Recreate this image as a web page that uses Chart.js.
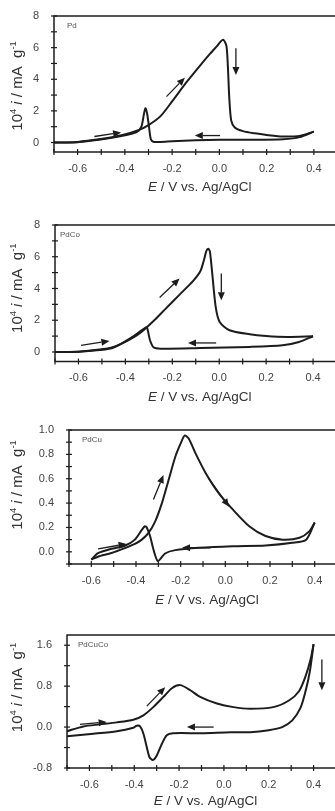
<!DOCTYPE html>
<html>
<head>
<meta charset="utf-8">
<script src="https://cdn.jsdelivr.net/npm/chart.js@4.4.1/dist/chart.umd.min.js"></script>
<style>
    html, body { margin: 0; padding: 0; background: #fff; width: 335px; height: 811px; overflow: hidden; }
    .panel { position: absolute; left: 0; }
</style>
</head>
<body>
<div class="panel" style="top:0px"><canvas id="cPd" width="345" height="200"></canvas></div>
<div class="panel" style="top:200px"><canvas id="cPdCo" width="345" height="205"></canvas></div>
<div class="panel" style="top:405px"><canvas id="cPdCu" width="345" height="203"></canvas></div>
<div class="panel" style="top:608px"><canvas id="cPdCuCo" width="345" height="203"></canvas></div>
<script>
// Pd
var pdFwdE = [-0.70, -0.60, -0.51, -0.41, -0.34, -0.30, -0.25, -0.20, -0.14, -0.08, -0.04, -0.01, 0.005, 0.017, 0.030, 0.036, 0.042, 0.050, 0.065, 0.10, 0.15, 0.20, 0.27, 0.34, 0.40];
var pdFwdI = [0.0, 0.04, 0.2, 0.48, 0.8, 1.1, 1.65, 2.6, 3.8, 4.9, 5.6, 6.1, 6.38, 6.5, 6.1, 4.8, 2.8, 1.4, 0.95, 0.72, 0.58, 0.48, 0.38, 0.42, 0.69];
var pdRevE = [0.40, 0.34, 0.27, 0.15, 0.0, -0.10, -0.20, -0.25, -0.28, -0.29, -0.298, -0.306, -0.313, -0.32, -0.33, -0.35, -0.41, -0.51, -0.60, -0.70];
var pdRevI = [0.69, 0.34, 0.21, 0.17, 0.17, 0.14, 0.08, 0.04, 0.05, 0.2, 1.0, 1.85, 2.17, 1.75, 1.0, 0.66, 0.42, 0.17, 0.02, 0.0];

// PdCo
var pdcoFwdE = [-0.71, -0.60, -0.51, -0.45, -0.40, -0.34, -0.28, -0.23, -0.17, -0.11, -0.08, -0.065, -0.055, -0.047, -0.04, -0.03, -0.015, 0.002, 0.044, 0.13, 0.20, 0.29, 0.40];
var pdcoFwdI = [0.0, 0.02, 0.15, 0.32, 0.63, 1.16, 1.95, 2.7, 3.6, 4.5, 5.1, 5.8, 6.35, 6.5, 6.35, 5.0, 2.84, 1.89, 1.37, 1.12, 1.01, 0.95, 0.99];
var pdcoRevE = [0.40, 0.34, 0.27, 0.13, -0.08, -0.25, -0.28, -0.295, -0.305, -0.31, -0.37, -0.45, -0.51, -0.60, -0.71];
var pdcoRevI = [0.99, 0.63, 0.42, 0.32, 0.25, 0.21, 0.3, 0.74, 1.4, 1.56, 0.95, 0.28, 0.12, 0.01, 0.0];

// PdCu
var pdcuFwdE = [-0.60, -0.57, -0.51, -0.45, -0.405, -0.374, -0.344, -0.314, -0.284, -0.254, -0.224, -0.20, -0.182, -0.164, -0.134, -0.089, -0.029, 0.032, 0.107, 0.18, 0.257, 0.332, 0.377, 0.40];
var pdcuFwdI = [-0.063, -0.04, -0.01, 0.03, 0.065, 0.1, 0.155, 0.25, 0.4, 0.59, 0.78, 0.89, 0.955, 0.93, 0.81, 0.65, 0.48, 0.35, 0.21, 0.13, 0.1, 0.115, 0.17, 0.24];
var pdcuRevE = [0.40, 0.362, 0.30, 0.18, 0.032, -0.119, -0.224, -0.27, -0.302, -0.322, -0.337, -0.352, -0.36, -0.374, -0.405, -0.45, -0.51, -0.57, -0.60];
var pdcuRevI = [0.24, 0.1, 0.074, 0.052, 0.046, 0.033, 0.014, -0.014, -0.076, 0.02, 0.13, 0.2, 0.21, 0.18, 0.1, 0.05, 0.025, -0.01, -0.063];

// PdCuCo
var pdcucoFwdE = [-0.70, -0.627, -0.552, -0.478, -0.404, -0.359, -0.314, -0.27, -0.232, -0.195, -0.15, -0.106, -0.031, 0.043, 0.117, 0.22, 0.29, 0.335, 0.364, 0.387, 0.40];
var pdcucoFwdI = [-0.08, 0.013, 0.053, 0.092, 0.145, 0.23, 0.395, 0.59, 0.76, 0.82, 0.72, 0.59, 0.46, 0.39, 0.36, 0.39, 0.52, 0.7, 0.99, 1.33, 1.62];
var pdcucoRevE = [0.40, 0.383, 0.364, 0.342, 0.305, 0.26, 0.20, 0.117, 0.03, -0.10, -0.225, -0.255, -0.277, -0.30, -0.317, -0.332, -0.344, -0.359, -0.374, -0.389, -0.404, -0.478, -0.582, -0.70];
var pdcucoRevI = [1.62, 1.08, 0.7, 0.38, 0.13, 0.0, -0.06, -0.1, -0.1, -0.12, -0.12, -0.16, -0.33, -0.56, -0.645, -0.59, -0.395, -0.13, 0.013, 0.026, -0.013, -0.08, -0.13, -0.18];

// scan direction arrows, [E1, i1, E2, i2] in axis units
var pdArrows = [[-0.529, 0.38, -0.416, 0.63], [-0.224, 2.9, -0.146, 4.1], [0.07, 5.96, 0.07, 4.27], [0.003, 0.44, -0.104, 0.44]];
var pdcoArrows = [[-0.589, 0.42, -0.468, 0.69], [-0.254, 3.43, -0.169, 4.63], [0.009, 4.95, 0.009, 3.26], [-0.013, 0.57, -0.133, 0.57]];
var pdcuArrows = [[-0.57, 0.025, -0.442, 0.065], [-0.322, 0.43, -0.277, 0.63], [-0.074, 0.6, 0.017, 0.37], [-0.066, 0.033, -0.194, 0.033]];
var pdcucoArrows = [[-0.642, 0.053, -0.523, 0.1], [-0.344, 0.41, -0.262, 0.78], [0.437, 1.32, 0.437, 0.72], [-0.046, 0.0, -0.165, 0.0]];

var FONT = '"Liberation Sans", Arial, sans-serif';
var INK = '#1c1c1c';

function pts(e, i) {
    return e.map(function (v, k) { return {x: v, y: i[k]}; });
}

function arrow(ctx, x1, y1, x2, y2) {
    var a = Math.atan2(y2 - y1, x2 - x1), hl = 8, hw = 3.5;
    var c = Math.cos(a), s = Math.sin(a);
    ctx.beginPath();
    ctx.moveTo(x1, y1);
    ctx.lineTo(x2 - hl * c, y2 - hl * s);
    ctx.stroke();
    ctx.beginPath();
    ctx.moveTo(x2, y2);
    ctx.lineTo(x2 - hl * c - hw * s, y2 - hl * s + hw * c);
    ctx.lineTo(x2 - hl * c + hw * s, y2 - hl * s - hw * c);
    ctx.closePath();
    ctx.fill();
}

// text made of pieces, some italic or superscript, centred on (0,0)
function richText(ctx, parts, size) {
    var w = 0;
    parts.forEach(function (p) {
        ctx.font = (p.it ? 'italic ' : '') + (p.sup ? size * 0.62 : size) + 'px ' + FONT;
        p.w = ctx.measureText(p.t).width;
        w += p.w;
    });
    var x = -w / 2;
    parts.forEach(function (p) {
        ctx.font = (p.it ? 'italic ' : '') + (p.sup ? size * 0.62 : size) + 'px ' + FONT;
        ctx.fillText(p.t, x, p.sup ? -size * 0.38 : 0);
        x += p.w;
    });
}

var decor = {
    id: 'decor',
    afterDraw: function (chart) {
        var o = chart.options.plugins.decor;
        var ctx = chart.ctx, a = chart.chartArea, sx = chart.scales.x, sy = chart.scales.y;
        ctx.save();
        ctx.strokeStyle = INK;
        ctx.fillStyle = INK;
        ctx.lineWidth = 1.5;
        ctx.strokeRect(a.left, a.top, a.right - a.left, a.bottom - a.top);

        // tick marks through both axes
        ctx.lineWidth = 1.2;
        sx.ticks.forEach(function (t) {
            var p = sx.getPixelForValue(t.value);
            ctx.beginPath(); ctx.moveTo(p, a.bottom - 3); ctx.lineTo(p, a.bottom + 3); ctx.stroke();
        });
        sy.ticks.forEach(function (t) {
            var p = sy.getPixelForValue(t.value);
            ctx.beginPath(); ctx.moveTo(a.left - 3, p); ctx.lineTo(a.left + 3, p); ctx.stroke();
        });

        // arrows
        ctx.lineWidth = 1.3;
        o.arrows.forEach(function (r) {
            arrow(ctx, sx.getPixelForValue(r[0]), sy.getPixelForValue(r[1]),
                sx.getPixelForValue(r[2]), sy.getPixelForValue(r[3]));
        });

        // sample name
        ctx.fillStyle = '#555';
        ctx.font = '8px ' + FONT;
        ctx.textBaseline = 'middle';
        ctx.textAlign = 'left';
        ctx.fillText(o.name, a.left + o.nameDx, a.top + 10);

        // axis titles
        ctx.fillStyle = '#333';
        ctx.textBaseline = 'alphabetic';
        ctx.save();
        ctx.translate((a.left + a.right) / 2 + 4, a.bottom + o.xTitleDy);
        richText(ctx, [{t: 'E', it: true}, {t: ' / V vs. Ag/AgCl'}], 13.5);
        ctx.restore();
        ctx.save();
        ctx.translate(22, (a.top + a.bottom) / 2 + o.yTitleDy);
        ctx.rotate(-Math.PI / 2);
        richText(ctx, [{t: '10'}, {t: '4', sup: true}, {t: ' '}, {t: 'i', it: true}, {t: ' / mA  g'}, {t: '-1', sup: true}], 15);
        ctx.restore();
        ctx.restore();
    }
};

function makePanel(id, fwd, rev, cfg) {
    var canvas = document.getElementById(id);
    new Chart(canvas, {
        type: 'scatter',
        data: {
            datasets: [
                {data: fwd, showLine: true, borderColor: INK, borderWidth: 2, pointRadius: 0, tension: 0.25},
                {data: rev, showLine: true, borderColor: INK, borderWidth: 2, pointRadius: 0, tension: 0.25}
            ]
        },
        options: {
            responsive: false,
            animation: false,
            events: [],
            layout: {padding: {left: 0, top: cfg.top, right: canvas.width - cfg.right, bottom: 0}},
            plugins: {
                legend: {display: false},
                tooltip: {enabled: false},
                decor: {arrows: cfg.arrows, name: cfg.name, nameDx: cfg.nameDx, xTitleDy: cfg.xTitleDy, yTitleDy: cfg.yTitleDy}
            },
            scales: {
                x: {
                    type: 'linear', min: -0.7, max: 0.5,
                    grid: {display: false}, border: {display: false},
                    afterFit: function (s) { s.height = canvas.height - cfg.bottom; },
                    ticks: {
                        stepSize: 0.1, autoSkip: false, maxRotation: 0, padding: 2,
                        color: '#444', font: {family: FONT, size: 11},
                        callback: function (v) {
                            var n = Math.round(v * 10);
                            return n % 2 === 0 ? (n / 10).toFixed(1) : '';
                        }
                    }
                },
                y: {
                    type: 'linear', min: cfg.ymin, max: cfg.ymax,
                    grid: {display: false}, border: {display: false},
                    afterFit: function (s) { s.width = cfg.left; },
                    ticks: {
                        stepSize: cfg.minorStep, includeBounds: false, autoSkip: false, padding: 7,
                        color: '#444', font: {family: FONT, size: 11},
                        callback: cfg.yLabel
                    }
                }
            }
        },
        plugins: [decor]
    });
}

function everyOther(step, digits) {
    return function (v) {
        var n = Math.round(v / step);
        return n % 2 === 0 ? (n * step).toFixed(digits) : '';
    };
}

makePanel('cPd', pts(pdFwdE, pdFwdI), pts(pdRevE, pdRevI), {
    left: 54, right: 337.5, top: 16, bottom: 152, ymin: -0.6, ymax: 8, minorStep: 1,
    yLabel: everyOther(1, 0), arrows: pdArrows, name: 'Pd', nameDx: 13, xTitleDy: 39, yTitleDy: 2
});
makePanel('cPdCo', pts(pdcoFwdE, pdcoFwdI), pts(pdcoRevE, pdcoRevI), {
    left: 55, right: 336.5, top: 25, bottom: 161.5, ymin: -0.6, ymax: 8, minorStep: 1,
    yLabel: everyOther(1, 0), arrows: pdcoArrows, name: 'PdCo', nameDx: 5, xTitleDy: 39, yTitleDy: -5
});
makePanel('cPdCu', pts(pdcuFwdE, pdcuFwdI), pts(pdcuRevE, pdcuRevI), {
    left: 69, right: 337, top: 25, bottom: 159, ymin: -0.1, ymax: 1.0, minorStep: 0.1,
    yLabel: everyOther(0.1, 1), arrows: pdcuArrows, name: 'PdCu', nameDx: 13, xTitleDy: 40, yTitleDy: -12
});
makePanel('cPdCuCo', pts(pdcucoFwdE, pdcucoFwdI), pts(pdcucoRevE, pdcucoRevI), {
    left: 67, right: 336, top: 27, bottom: 160, ymin: -0.8, ymax: 1.8, minorStep: 0.4,
    yLabel: everyOther(0.4, 1), arrows: pdcucoArrows, name: 'PdCuCo', nameDx: 11, xTitleDy: 37, yTitleDy: -14
});
</script>
</body>
</html>
